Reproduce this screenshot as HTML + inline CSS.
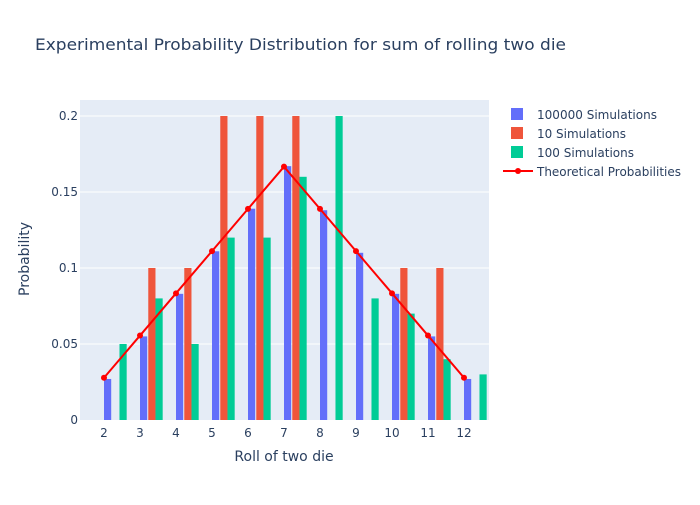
<!DOCTYPE html>
<html><head><meta charset="utf-8"><style>
body{margin:0;background:#fff;}
svg text{font-family:"DejaVu Sans","Liberation Sans",Arial,sans-serif;fill:#2a3f5f;}
</style></head><body>
<svg width="700" height="500">
<rect width="700" height="500" fill="#fff"/>
<text x="35" y="50" font-size="16" textLength="531" lengthAdjust="spacingAndGlyphs">Experimental Probability Distribution for sum of rolling two die</text>
<rect x="80" y="100" width="409" height="320" fill="#e5ecf6"/>
<g id="grid"></g><g id="bars"></g><g id="line"></g><g id="axes"></g>
<text x="284" y="461" font-size="14" text-anchor="middle">Roll of two die</text>
<text x="29" y="259" font-size="14" text-anchor="middle" transform="rotate(-90 29 259)">Probability</text>
<g>
<g><rect x="511" y="108" width="12" height="12" fill="#636efa"/><text x="537" y="119" font-size="12" textLength="120" lengthAdjust="spacingAndGlyphs">100000 Simulations</text></g>
<g><rect x="511" y="127" width="12" height="12" fill="#ef553b"/><text x="537" y="138" font-size="12" textLength="89" lengthAdjust="spacingAndGlyphs">10 Simulations</text></g>
<g><rect x="511" y="146" width="12" height="12" fill="#00cc96"/><text x="537" y="157" font-size="12" textLength="97" lengthAdjust="spacingAndGlyphs">100 Simulations</text></g>
<g><line x1="503" y1="171" x2="533" y2="171" stroke="red" stroke-width="2"/><circle cx="518" cy="171" r="3" fill="red"/><text x="537" y="176" font-size="12" textLength="144" lengthAdjust="spacingAndGlyphs">Theoretical Probabilities</text></g>
</g>
</svg>
<script>
const categories=[2,3,4,5,6,7,8,9,10,11,12];
const sim100000=[0.027,0.055,0.083,0.111,0.139,0.167,0.138,0.110,0.083,0.055,0.027];
const sim10=[0,0.1,0.1,0.2,0.2,0.2,0,0,0.1,0.1,0];
const sim100=[0.05,0.08,0.05,0.12,0.12,0.16,0.2,0.08,0.07,0.04,0.03];
const theoretical=[1/36,2/36,3/36,4/36,5/36,6/36,5/36,4/36,3/36,2/36,1/36];
const yTicks=[0,0.05,0.1,0.15,0.2];
const yTickLabels=["0","0.05","0.1","0.15","0.2"];
const NS="http://www.w3.org/2000/svg";
const xs=v=>104+(v-2)*36;
const ys=v=>420-v*1520;
function mk(p,tag,at){const e=document.createElementNS(NS,tag);for(const k in at)e.setAttribute(k,at[k]);document.getElementById(p).appendChild(e);return e;}
yTicks.forEach((t,i)=>{
 if(t>0){const g=mk('grid','line',{x1:80,x2:489,y1:ys(t),y2:ys(t),stroke:'#fff','stroke-width':1});
 
 }
 const tx=mk('axes','text',{x:78,y:ys(t)+4,'font-size':12,'text-anchor':'end'});tx.textContent=yTickLabels[i];
 
 
});
categories.forEach(c=>{
 const tx=mk('axes','text',{x:xs(c),y:437,'font-size':12,'text-anchor':'middle'});tx.textContent=c;
 
 
});
const series=[[sim100000,'#636efa',0.1,'bar-100000'],[sim10,'#ef553b',0.33,'bar-10'],[sim100,'#00cc96',0.53,'bar-100']];
series.forEach(([vals,col,off,name])=>{
 vals.forEach((v,i)=>{
  if(v<=0)return;
  const cx=xs(categories[i]+off);
  const r=mk('bars','rect',{x:cx-3.6,y:ys(v),width:7.2,height:420-ys(v),fill:col});
  
  
 });
});
const pts=categories.map((c,i)=>xs(c)+','+ys(theoretical[i])).join(' ');
const pl=mk('line','polyline',{points:pts,fill:'none',stroke:'red','stroke-width':2});


categories.forEach((c,i)=>{
 const m=mk('line','circle',{cx:xs(c),cy:ys(theoretical[i]),r:3,fill:'red'});
 
 
});
</script>
</body></html>
